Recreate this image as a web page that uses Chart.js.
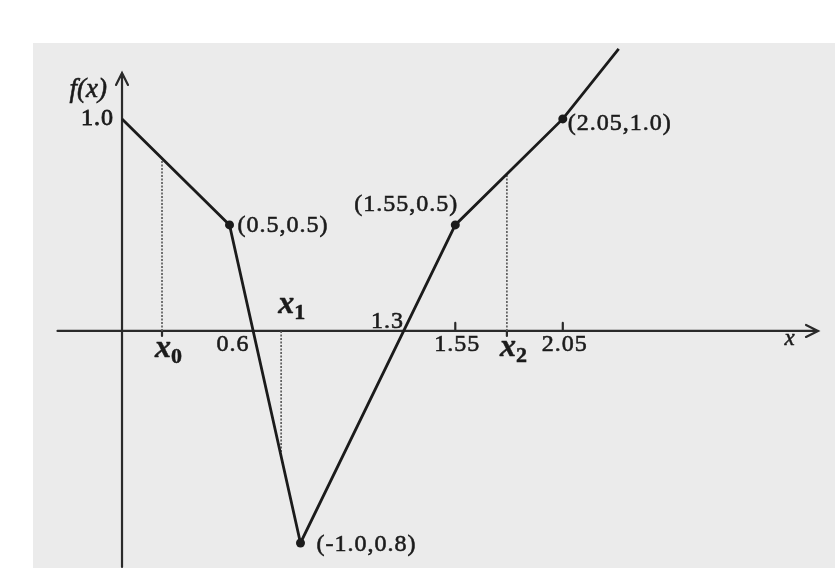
<!DOCTYPE html>
<html>
<head>
<meta charset="utf-8">
<script src="https://cdn.jsdelivr.net/npm/chart.js@4.4.0/dist/chart.umd.min.js"></script>
<style>
  html, body { margin: 0; padding: 0; background: #fff; }
  #wrap { width: 839px; height: 571px; }
  .warm { position: absolute; left: -9999px; font-family: "Liberation Serif"; }
</style>
</head>
<body>
<span class="warm">1.0 <i>f(x)</i> <b><i>x</i>0</b></span>
<div id="wrap"><canvas id="plot" width="839" height="571"></canvas></div>
<script>
// vertices of the f(x) polyline
const fxX = [0, 0.5, 0.83, 1.55, 2.05, 2.31];
const fxY = [1.0, 0.5, -1.0, 0.5, 1.0, 1.33];
// vertices that get a dot, and the text printed next to them
const dotIndex = [1, 2, 3, 4];
const dotLabels = ['(0.5,0.5)', '(-1.0,0.8)', '(1.55,0.5)', '(2.05,1.0)'];
// numbers on the x axis
const tickValues = [0.6, 1.3, 1.55, 2.05];
const tickLabels = ['0.6', '1.3', '1.55', '2.05'];
// x0, x1, x2 and where their dotted guides meet the curve
const iterX = [0.186, 0.74, 1.79];
const iterY = [0.814, -0.58, 0.74];
const iterSubs = ['0', '1', '2'];
// number on the y axis
const yTickValues = [1.0];
const yTickLabels = ['1.0'];

const ink = '#1b1b1b';
const serif = '"Liberation Serif", "DejaVu Serif", serif';

// where each text sits relative to its anchor (px)
const tickOffsets = [[-18, 14], [-14, -9], [2, 14], [2, 14]];
const dotOffsets = [[8, 1, 'left'], [16, 2, 'left'], [3, -20, 'right'], [5, 5, 'left']];
const iterOffsets = [[5, 21], [9, -23], [5, 20]];

// scanned print is heavy: fill and lightly stroke the glyphs
function inkText(ctx, s, px, py, w) {
    ctx.fillText(s, px, py);
    ctx.lineWidth = w;
    ctx.strokeText(s, px, py);
}

const paper = {
    id: 'paper',
    beforeDraw(chart) {
        const { ctx, chartArea: a } = chart;
        ctx.save();
        ctx.fillStyle = '#ffffff';
        ctx.fillRect(0, 0, chart.width, chart.height);
        ctx.fillStyle = '#ebebeb';
        ctx.fillRect(a.left, a.top, a.right - a.left, a.bottom - a.top);
        ctx.restore();
    }
};

const axes = {
    id: 'axes',
    beforeDatasetsDraw(chart) {
        const { ctx, scales: { x, y } } = chart;
        const x0 = x.getPixelForValue(0), y0 = y.getPixelForValue(0);
        const left = x.getPixelForValue(-0.3), right = x.getPixelForValue(3.237);
        const top = y.getPixelForValue(1.217), bottom = y.getPixelForValue(-1.113);
        ctx.save();
        ctx.strokeStyle = '#2a2a2a';
        ctx.lineWidth = 2.2;
        ctx.lineCap = 'round';
        ctx.beginPath();
        ctx.moveTo(left, y0); ctx.lineTo(right, y0);
        ctx.moveTo(x0, bottom); ctx.lineTo(x0, top);
        // arrow heads
        ctx.moveTo(right - 12, y0 - 6); ctx.lineTo(right, y0); ctx.lineTo(right - 12, y0 + 6);
        ctx.moveTo(x0 - 6, top + 12); ctx.lineTo(x0, top); ctx.lineTo(x0 + 6, top + 12);
        // small ticks
        [1.55, 2.05].forEach(v => {
            const px = x.getPixelForValue(v);
            ctx.moveTo(px, y0); ctx.lineTo(px, y0 - 8);
        });
        [iterX[0], iterX[2]].forEach(v => {
            const px = x.getPixelForValue(v);
            ctx.moveTo(px, y0); ctx.lineTo(px, y0 + 5);
        });
        ctx.stroke();
        ctx.restore();
    },
    afterDatasetsDraw(chart) {
        const { ctx, scales: { x, y } } = chart;
        const x0 = x.getPixelForValue(0), y0 = y.getPixelForValue(0);
        ctx.save();
        ctx.fillStyle = ink;
        ctx.strokeStyle = ink;
        ctx.textBaseline = 'middle';
        ctx.letterSpacing = '1px';

        ctx.font = 'normal 400 24px ' + serif;
        ctx.textAlign = 'center';
        tickValues.forEach((v, i) => {
            inkText(ctx, tickLabels[i], x.getPixelForValue(v) + tickOffsets[i][0], y0 + tickOffsets[i][1], 0.6);
        });
        ctx.textAlign = 'right';
        yTickValues.forEach((v, i) => {
            inkText(ctx, yTickLabels[i], x0 - 8, y.getPixelForValue(v), 0.8);
        });

        dotIndex.forEach((k, i) => {
            const o = dotOffsets[i];
            ctx.textAlign = o[2];
            inkText(ctx, dotLabels[i], x.getPixelForValue(fxX[k]) + o[0], y.getPixelForValue(fxY[k]) + o[1], 0.6);
        });

        // bold italic x with subscript
        ctx.letterSpacing = '0px';
        iterX.forEach((v, i) => {
            const cx = x.getPixelForValue(v) + iterOffsets[i][0];
            const cy = y0 + iterOffsets[i][1];
            ctx.textAlign = 'right';
            ctx.font = 'italic 700 32px ' + serif;
            inkText(ctx, 'x', cx + 4, cy - 3, 0.5);
            ctx.textAlign = 'left';
            ctx.font = 'normal 700 22px ' + serif;
            inkText(ctx, iterSubs[i], cx + 4, cy + 5, 0.5);
        });

        ctx.textAlign = 'right';
        ctx.font = 'italic 400 27px ' + serif;
        inkText(ctx, 'f(x)', x0 - 15, y.getPixelForValue(1.135), 0.6);
        ctx.textAlign = 'center';
        ctx.font = 'italic 400 23px ' + serif;
        inkText(ctx, 'x', x.getPixelForValue(3.105), y0 + 8, 0.5);
        ctx.restore();
    }
};

const guideSets = iterX.map((v, i) => ({
    data: [{ x: v, y: 0 }, { x: v, y: iterY[i] }],
    borderColor: '#555555',
    borderWidth: 1.6,
    borderDash: [2, 1.5],
    pointRadius: 0,
    showLine: true
}));

function build() {
    new Chart(document.getElementById('plot'), {
        type: 'scatter',
        data: {
            datasets: [{
                data: fxX.map((v, i) => ({ x: v, y: fxY[i] })),
                borderColor: ink,
                borderWidth: 2.8,
                backgroundColor: ink,
                pointRadius: ctx => dotIndex.includes(ctx.dataIndex) ? 4.5 : 0,
                pointBorderWidth: 0,
                showLine: true,
                tension: 0
            }, ...guideSets]
        },
        options: {
            responsive: false,
            animation: false,
            layout: { padding: { left: 33, top: 43, right: 4, bottom: 3 } },
            scales: {
                x: { type: 'linear', min: -0.414, max: 3.316, display: false },
                y: { type: 'linear', min: -1.118, max: 1.358, display: false }
            },
            plugins: {
                legend: { display: false },
                tooltip: { enabled: false }
            }
        },
        plugins: [paper, axes]
    });
}

Promise.all([
    document.fonts.load('24px "Liberation Serif"'),
    document.fonts.load('italic 24px "Liberation Serif"'),
    document.fonts.load('bold 24px "Liberation Serif"'),
    document.fonts.load('italic bold 24px "Liberation Serif"')
]).then(build, build);
</script>
</body>
</html>
